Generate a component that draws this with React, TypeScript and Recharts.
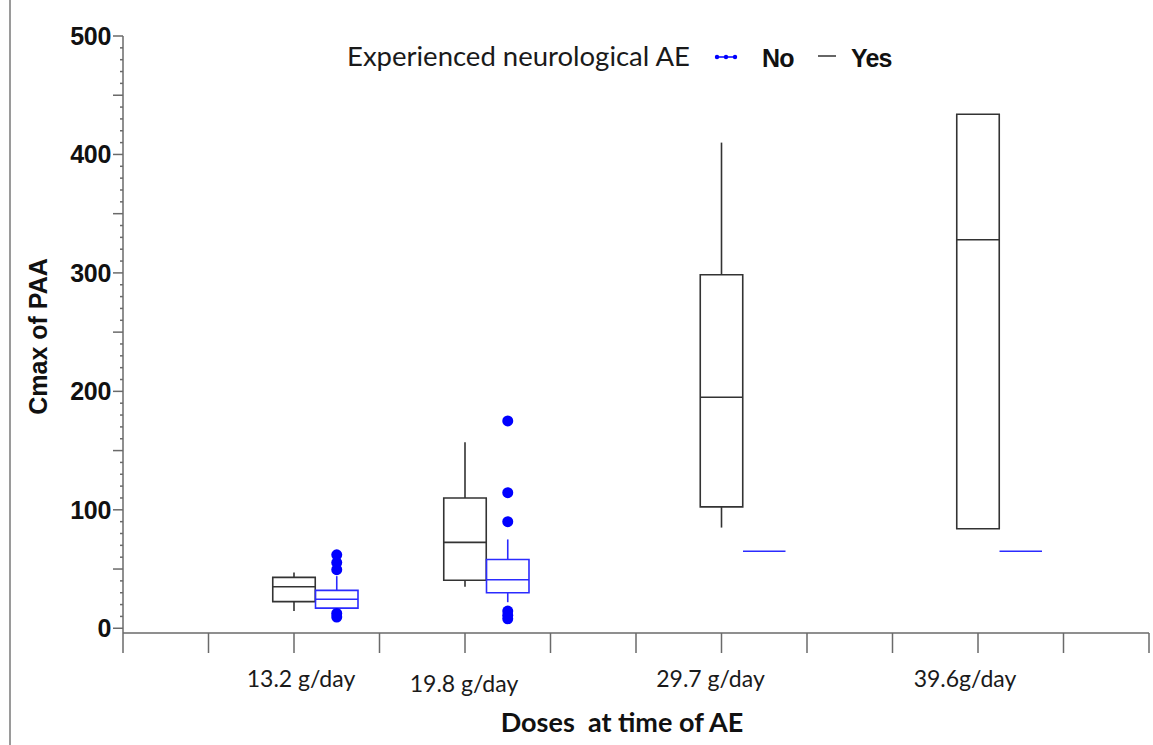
import React from 'react';
import { ComposedChart, XAxis, YAxis, Scatter, ReferenceArea, ReferenceLine, Legend } from 'recharts';

// Doses (g/day) and their axis labels
const doses = [13.2, 19.8, 29.7, 39.6];
const doseLabels = ['13.2 g/day', '19.8 g/day', '29.7 g/day', '39.6g/day'];
const xTicks = [6.6, 9.9, 13.2, 16.5, 19.8, 23.1, 26.4, 29.7, 33, 36.3, 39.6, 42.9, 46.2];
const yMajorTicks = [0, 100, 200, 300, 400, 500];
const yAllTicks = Array.from({ length: 51 }, (_, i) => i * 10);

// Experienced neurological AE = Yes (black boxes)
const yesMin = [14.5, 35, 85, 84];
const yesQ1 = [22.5, 40.5, 102.5, 84];
const yesMedian = [35, 72.5, 195, 328];
const yesQ3 = [43, 110, 298.5, 434];
const yesMax = [47, 157, 410, 434];

// Experienced neurological AE = No (blue boxes)
const noMin = [14, 22, 65, 65];
const noQ1 = [17, 30, 65, 65];
const noMedian = [24.5, 41, 65, 65];
const noQ3 = [32, 58, 65, 65];
const noMax = [44, 75, 65, 65];

// Outliers of the No group
const outlierDose = [13.2, 13.2, 13.2, 13.2, 13.2, 19.8, 19.8, 19.8, 19.8, 19.8, 19.8];
const outlierValue = [62, 55.5, 49.5, 12.5, 9.5, 175, 114.5, 90, 14.5, 11, 8];

const NO_SHIFT = 1.65; // No box sits half a tick interval to the right
const HALF_W = 0.82; // box half-width in dose units
const labelNudge = [7, -1, -11, -13];
const labelDrop = [0, 5, 0, 0];

const YES_COLOR = '#333333';
const NO_COLOR = '#2b2bff';
const AXIS_COLOR = '#6a6a6a';

const outliers = outlierDose.map((d, i) => ({ x: d + NO_SHIFT, y: outlierValue[i] }));

type BoxSet = { min: number[]; q1: number[]; med: number[]; q3: number[]; max: number[]; shift: number; color: string; key: string };
const boxSets: BoxSet[] = [
  { min: yesMin, q1: yesQ1, med: yesMedian, q3: yesQ3, max: yesMax, shift: 0, color: YES_COLOR, key: 'yes' },
  { min: noMin, q1: noQ1, med: noMedian, q3: noQ3, max: noMax, shift: NO_SHIFT, color: NO_COLOR, key: 'no' },
];

const boxElements: React.ReactElement[] = [];
boxSets.forEach((s) => {
  doses.forEach((d, i) => {
    const cx = d + s.shift;
    boxElements.push(
      <ReferenceArea key={`${s.key}-box-${i}`} x1={cx - HALF_W} x2={cx + HALF_W} y1={s.q1[i]} y2={s.q3[i]}
        fill="#ffffff" fillOpacity={0} stroke={s.color} strokeWidth={1.6} strokeOpacity={1} />
    );
    boxElements.push(
      <ReferenceLine key={`${s.key}-med-${i}`} segment={[{ x: cx - HALF_W, y: s.med[i] }, { x: cx + HALF_W, y: s.med[i] }]}
        stroke={s.color} strokeWidth={1.6} />
    );
    if (s.max[i] > s.q3[i]) {
      boxElements.push(
        <ReferenceLine key={`${s.key}-wh-${i}`} segment={[{ x: cx, y: s.q3[i] }, { x: cx, y: s.max[i] }]}
          stroke={s.color} strokeWidth={1.6} />
      );
    }
    if (s.min[i] < s.q1[i]) {
      boxElements.push(
        <ReferenceLine key={`${s.key}-wl-${i}`} segment={[{ x: cx, y: s.min[i] }, { x: cx, y: s.q1[i] }]}
          stroke={s.color} strokeWidth={1.6} />
      );
    }
  });
});

const YTick = (props: any) => {
  const { x, y, payload } = props;
  const v = payload.value;
  const major = yMajorTicks.includes(v);
  const mid = v % 50 === 0;
  const len = major || mid ? 10 : 3;
  return (
    <g>
      <line x1={x - len} x2={x} y1={y} y2={y} stroke={AXIS_COLOR} strokeWidth={1.5} />
      {major && (
        <text x={x - 12} y={y} dy={9} textAnchor="end" fontFamily="'Liberation Sans', Arial, sans-serif"
          fontWeight="bold" fontSize={25} fill="#111" letterSpacing={-0.3}>
          {v}
        </text>
      )}
    </g>
  );
};

const XTick = (props: any) => {
  const { x, y, payload } = props;
  const i = doses.findIndex((d) => Math.abs(d - payload.value) < 1e-6);
  if (i < 0) return <g />;
  return (
    <text x={x + labelNudge[i]} y={y + 32 + labelDrop[i]} textAnchor="middle" fontFamily="Lato, 'Open Sans', sans-serif"
      fontSize={23} fill="#1a1a1a">
      {doseLabels[i]}
    </text>
  );
};

const YTitle = (props: any) => {
  const vb = props.viewBox || { x: 0, y: 36, width: 123, height: 597 };
  const cx = vb.x + 38;
  const cy = vb.y + vb.height / 2 + 2;
  return (
    <text x={cx} y={cy} transform={`rotate(-90, ${cx}, ${cy})`} textAnchor="middle" dominantBaseline="central"
      fontFamily="'Liberation Sans', Arial, sans-serif" fontWeight="bold" fontSize={25} fill="#111">
      Cmax of PAA
    </text>
  );
};

const XTitle = (props: any) => {
  const vb = props.viewBox || { x: 123, y: 633, width: 1026, height: 112 };
  const cx = vb.x + vb.width / 2 - 14;
  return (
    <text x={cx} y={vb.y + 99} textAnchor="middle" fontFamily="Lato, 'Open Sans', sans-serif" fontWeight="bold"
      fontSize={27} fill="#111" style={{ whiteSpace: 'pre' }}>
      {'Doses  at time of AE'}
    </text>
  );
};

const LegendContent = () => (
  <svg width={570} height={40} style={{ display: 'block' }}>
    <text x={7} y={28} fontFamily="Lato, 'Open Sans', sans-serif" fontSize={27.5} fill="#1a1a1a">
      Experienced neurological AE
    </text>
    <line x1={375} x2={397} y1={19} y2={19} stroke="#0000ff" strokeWidth={1.5} />
    <circle cx={377} cy={19} r={2.2} fill="#0000ff" />
    <circle cx={386} cy={19} r={2.2} fill="#0000ff" />
    <circle cx={395} cy={19} r={2.2} fill="#0000ff" />
    <text x={422} y={29} fontFamily="'Liberation Sans', Arial, sans-serif" fontWeight="bold" fontSize={25} fill="#111" letterSpacing={-0.8}>
      No
    </text>
    <line x1={478} x2={496} y1={18} y2={18} stroke="#333" strokeWidth={1.5} />
    <text x={511} y={29} fontFamily="'Liberation Sans', Arial, sans-serif" fontWeight="bold" fontSize={25} fill="#111" letterSpacing={-0.8}>
      Yes
    </text>
  </svg>
);

export default function App() {
  return (
    <div style={{ position: 'absolute', left: 0, top: 0, width: 1153, height: 745, background: '#fff', overflow: 'hidden' }}>
      <div style={{ position: 'absolute', left: 9, top: 0, width: 1.5, height: 745, background: '#9a9a9a' }} />
      <ComposedChart width={1153} height={745} margin={{ top: 36, right: 4, left: 0, bottom: 0 }}>
        <XAxis
          dataKey="x"
          type="number"
          domain={[6.6, 46.2]}
          ticks={xTicks}
          interval={0}
          allowDataOverflow
          tickSize={20}
          tickLine={{ stroke: AXIS_COLOR, strokeWidth: 1.5 }}
          axisLine={{ stroke: AXIS_COLOR, strokeWidth: 1.5 }}
          tick={<XTick />}
          height={112}
          label={<XTitle />}
        />
        <YAxis
          dataKey="y"
          type="number"
          domain={[-4, 500]}
          ticks={yAllTicks}
          interval={0}
          allowDataOverflow
          width={123}
          tickSize={0}
          tickMargin={0}
          tickLine={false}
          axisLine={{ stroke: AXIS_COLOR, strokeWidth: 1.5 }}
          tick={<YTick />}
          label={<YTitle />}
        />
        <Legend
          verticalAlign="middle"
          align="center"
          layout="horizontal"
          content={<LegendContent />}
          wrapperStyle={{ left: 340, top: 38, width: 570, height: 40 }}
        />
        {boxElements}
        <Scatter
          data={outliers}
          dataKey="y"
          isAnimationActive={false}
          shape={(p: any) => <circle cx={p.cx} cy={p.cy} r={5.5} fill="#0000ff" />}
        />
      </ComposedChart>
    </div>
  );
}
